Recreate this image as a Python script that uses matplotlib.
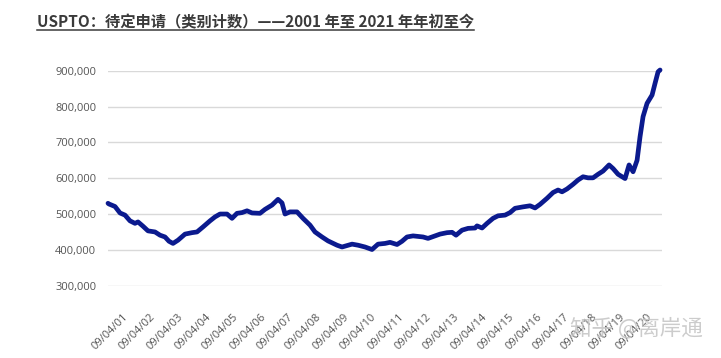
import matplotlib.pyplot as plt
import matplotlib.transforms as mtransforms
from matplotlib.ticker import FuncFormatter

plt.rcParams['font.family'] = ['Noto Sans CJK SC', 'DejaVu Sans']

# decimal year, pending applications
years = [2001.000, 2001.036, 2001.254, 2001.435, 2001.616, 2001.797, 2001.978, 2002.087,
         2002.268, 2002.449, 2002.703, 2002.884, 2003.065, 2003.210, 2003.355, 2003.536,
         2003.790, 2004.043, 2004.225, 2004.442, 2004.696, 2004.877, 2005.058, 2005.312,
         2005.493, 2005.674, 2005.855, 2006.036, 2006.217, 2006.507, 2006.688, 2006.942,
         2007.159, 2007.304, 2007.413, 2007.594, 2007.848, 2008.065, 2008.319, 2008.500,
         2008.754, 2008.971, 2009.297, 2009.478, 2009.841, 2010.058, 2010.312, 2010.565,
         2010.783, 2011.036, 2011.217, 2011.471, 2011.652, 2011.833, 2012.051, 2012.413,
         2012.594, 2012.848, 2013.029, 2013.283, 2013.464, 2013.609, 2013.826, 2014.043,
         2014.297, 2014.370, 2014.551, 2014.732, 2014.949, 2015.130, 2015.384, 2015.565,
         2015.746, 2016.036, 2016.290, 2016.471, 2016.652, 2016.906, 2017.123, 2017.304,
         2017.449, 2017.630, 2017.848, 2018.029, 2018.210, 2018.391, 2018.572, 2018.754,
         2018.935, 2019.152, 2019.297, 2019.478, 2019.732, 2019.877, 2020.022, 2020.167,
         2020.275, 2020.384, 2020.529, 2020.710, 2020.819, 2020.928, 2021.000]
pending = [530000, 528000, 521000, 503000, 497000, 481000, 474000, 478000,
           466000, 453000, 450000, 441000, 436000, 424000, 418000, 427000,
           444000, 448000, 450000, 464000, 481000, 492000, 500000, 500000,
           488000, 502000, 504000, 509000, 503000, 502000, 513000, 525000,
           541000, 531000, 500000, 506000, 506000, 488000, 469000, 450000,
           436000, 425000, 413000, 408000, 416000, 413000, 408000, 401000,
           416000, 418000, 421000, 415000, 424000, 436000, 439000, 436000,
           432000, 439000, 444000, 448000, 449000, 441000, 455000, 460000,
           461000, 467000, 461000, 474000, 488000, 495000, 497000, 504000,
           516000, 520000, 523000, 517000, 527000, 544000, 560000, 567000,
           562000, 570000, 583000, 595000, 604000, 601000, 601000, 611000,
           620000, 637000, 627000, 611000, 599000, 637000, 618000, 650000,
           716000, 772000, 809000, 832000, 865000, 897000, 902000]

tick_years = list(range(2001, 2021))
tick_labels = ['09/04/%02d' % (y % 100) for y in tick_years]
tick_pos = [y + 98 / 365 for y in tick_years]

title = 'USPTO：待定申请（类别计数）——2001 年至 2021 年年初至今'

fig = plt.figure(figsize=(7.21, 3.58), dpi=100)
ax = fig.add_axes([108 / 721, 1 - 285.7 / 358, (662 - 108) / 721, (285.7 - 70.7) / 358])

ax.plot(years, pending, color='#0B1A8E', lw=3.4, solid_joinstyle='round',
        solid_capstyle='round', clip_on=False, zorder=3)

ax.set_xlim(2001.0, 2021.07)
ax.set_ylim(300000, 900000)
ax.set_yticks(range(300000, 900001, 100000))
ax.yaxis.set_major_formatter(FuncFormatter(lambda v, p: f'{int(v):,}'))
ax.grid(axis='y', color='#d9d9d9', lw=1)
ax.set_axisbelow(True)
for s in ax.spines.values():
    s.set_visible(False)

ax.set_xticks(tick_pos)
ax.set_xticklabels(tick_labels, rotation=45, ha='right', rotation_mode='anchor')
ax.tick_params(length=0, colors='#555555', labelsize=8, labelfontfamily='Open Sans')
ax.tick_params(axis='y', pad=8.5)
ax.tick_params(axis='x', pad=18.5)
shift = mtransforms.ScaledTranslation(0.07, 0, fig.dpi_scale_trans)
for lab in ax.get_xticklabels():
    lab.set_transform(lab.get_transform() + shift)

t = fig.text(37 / 721, 1 - 22 / 358, title, fontsize=11, fontweight='bold',
             color='#3a3a3a', va='center')

# underline the title
fig.canvas.draw()
bb = t.get_window_extent()
uy = (358 - 29.5) / 358
fig.add_artist(plt.Line2D([bb.x0 / 721, bb.x1 / 721], [uy, uy], color='#3a3a3a', lw=1.1))

fig.text(703 / 721, 1 - 328 / 358, '知乎 @离岸通', ha='right', va='center',
         fontsize=15.5, color='#c4c4c4', alpha=0.85)

fig.savefig('out.png', dpi=100)
